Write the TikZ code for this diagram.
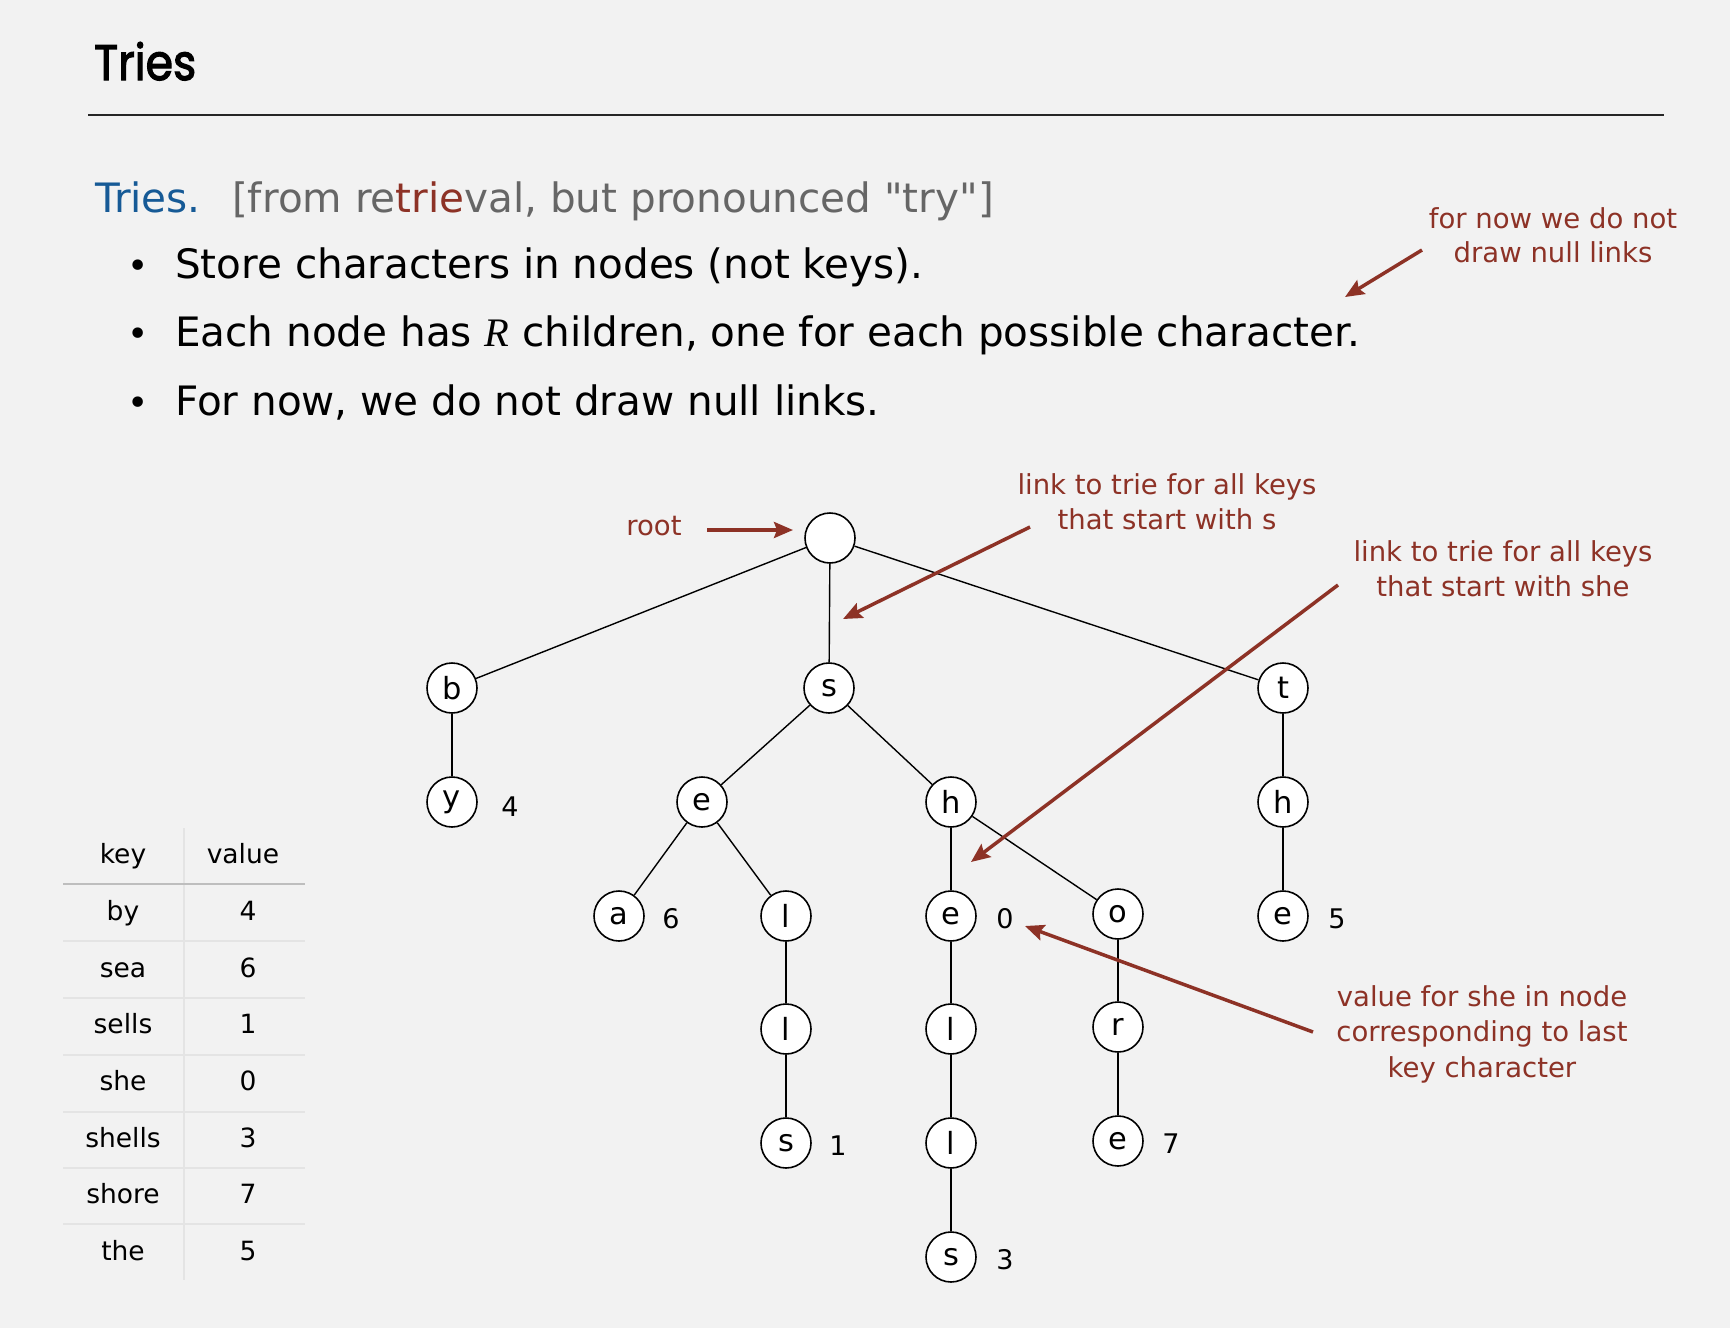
\documentclass[tikz,border=0pt]{standalone}
\usepackage{fontspec}
\setmainfont{DejaVu Sans}
\newfontfamily\titlefont{Poppins}[FakeBold=2.5]
\newfontfamily\qfont{DejaVu Sans}[Ligatures=TeXOff]
\newfontfamily\rfont{Liberation Serif}
\usetikzlibrary{arrows.meta}
\definecolor{bg}{RGB}{242,242,242}
\definecolor{annred}{RGB}{141,50,38}
\definecolor{tblue}{RGB}{22,90,150}
\definecolor{tgray}{RGB}{102,102,102}
\definecolor{hdrline}{RGB}{190,190,190}
\definecolor{rowline}{RGB}{228,228,228}
\begin{document}
\begin{tikzpicture}[x=1pt,y=-1pt,
  tn/.style={circle,draw=black,fill=white,line width=1.6pt,minimum size=50pt,inner sep=0pt,font=\fontsize{30.5}{30.5}\selectfont},
  tedge/.style={line width=1.4pt},
  val/.style={anchor=base,inner sep=0pt,font=\fontsize{27}{27}\selectfont},
  ann/.style={anchor=base,inner sep=0pt,text=annred,font=\fontsize{27.5}{27.5}\selectfont},
  redarrow/.style={draw=annred,line width=3.5pt,-{Stealth[length=19pt,width=16pt,inset=3pt]}},
  bul/.style={anchor=base west,inner sep=0pt,font=\fontsize{40.5}{40.5}\selectfont},
  bdot/.style={anchor=base,inner sep=0pt,font=\fontsize{36}{36}\selectfont},
  tbl/.style={anchor=base,inner sep=0pt,font=\fontsize{26.5}{26.5}\selectfont},
]
\fill[bg] (0,0) rectangle (1730,1328);
\useasboundingbox (0,0) rectangle (1730,1328);

% title and rule
\node[anchor=base west,inner sep=0pt] (title) at (94,80) {\resizebox{102pt}{38pt}{\titlefont Tries}};
\draw[line width=2pt,black!85] (88,115) -- (1664,115);

% text lines
\node[bul,text=tblue] (hd) at (95,212) {Tries.};
\node[bul,text=tgray] (hd2) at (232,212) {\qfont [from re\textcolor{annred}{trie}val, but pronounced "try"]};
\node[bdot] (d1) at (138,278) {\textbullet};
\node[bul] (l1) at (175,278) {Store characters in nodes (not keys).};
\node[bdot] (d2) at (138,346.5) {\textbullet};
\node[bul] (l2) at (175,346.5) {Each node has {\rfont\itshape R} children, one for each possible character.};
\node[bdot] (d3) at (138,415) {\textbullet};
\node[bul] (l3) at (175,415) {For now, we do not draw null links.};

% trie nodes
\node[tn] (root) at (830,538) {};
\node[tn] (b) at (452,688) {b};
\node[tn] (s) at (829,688) {s};
\node[tn] (t) at (1283,688) {t};
\node[tn] (by) at (452,802) {y};
\node[tn] (se) at (702,802) {e};
\node[tn] (sh) at (951,802) {h};
\node[tn] (th) at (1283,802) {h};
\node[tn] (sea) at (619,916) {a};
\node[tn] (sel) at (786,916) {l};
\node[tn] (she) at (951,916) {e};
\node[tn] (sho) at (1118,914) {o};
\node[tn] (the) at (1283,916) {e};
\node[tn] (sell) at (786,1029) {l};
\node[tn] (shel) at (951,1029) {l};
\node[tn] (shor) at (1118,1027) {r};
\node[tn] (sells) at (786,1143) {s};
\node[tn] (shell) at (951,1143) {l};
\node[tn] (shore) at (1118,1141) {e};
\node[tn] (shells) at (951,1257) {s};

% edges
\foreach \u/\v in {root/b,root/s,root/t,b/by,s/se,s/sh,t/th,se/sea,se/sel,sh/she,sh/sho,th/the,sel/sell,she/shel,sho/shor,sell/sells,shel/shell,shor/shore,shell/shells}
  \draw[tedge] (\u) -- (\v);

% values
\node[val] (v4) at (510,816) {4};
\node[val] (v6) at (671,928) {6};
\node[val] (v0) at (1005,928) {0};
\node[val] (v5) at (1337,928) {5};
\node[val] (v1) at (838,1155) {1};
\node[val] (v7) at (1171,1153) {7};
\node[val] (v3) at (1005,1269) {3};

% annotations
\node[ann] (a1a) at (1553,228) {for now we do not};
\node[ann] (a1b) at (1553,262) {draw null links};
\coordinate (a1s) at (1422,250);
\coordinate (a1t) at (1345,297);
\draw[redarrow] (a1s) -- (a1t);

\node[ann] (rootlbl) at (654,535) {root};
\coordinate (a2s) at (707,530);
\coordinate (a2t) at (793,530);
\draw[redarrow] (a2s) -- (a2t);

\node[ann] (a3a) at (1167,494) {link to trie for all keys};
\node[ann] (a3b) at (1167,529) {that start with s};
\coordinate (a3s) at (1030,527);
\coordinate (a3t) at (843,619);
\draw[redarrow] (a3s) -- (a3t);

\node[ann] (a4a) at (1503,561) {link to trie for all keys};
\node[ann] (a4b) at (1503,596) {that start with she};
\coordinate (a4s) at (1338,585);
\coordinate (a4t) at (971,862);
\draw[redarrow] (a4s) -- (a4t);

\node[ann] (a5a) at (1482,1006) {value for she in node};
\node[ann] (a5b) at (1482,1041) {corresponding to last};
\node[ann] (a5c) at (1482,1077) {key character};
\coordinate (a5s) at (1313,1032);
\coordinate (a5t) at (1025,926);
\draw[redarrow] (a5s) -- (a5t);

% table
\draw[rowline,line width=1.5pt] (184,828) -- (184,1280);
\foreach \yy in {941,998,1055,1112,1168,1224}
  \draw[rowline,line width=1.5pt] (63,\yy) -- (305,\yy);
\draw[hdrline,line width=2pt] (63,884) -- (305,884);
\node[tbl] (hk) at (123,863) {key};
\node[tbl] (hv) at (243,863) {value};
\node[tbl] (k1) at (123,920) {by};     \node[tbl] (w1) at (248,920) {4};
\node[tbl] (k2) at (123,977) {sea};    \node[tbl] (w2) at (248,977) {6};
\node[tbl] (k3) at (123,1033) {sells}; \node[tbl] (w3) at (248,1033) {1};
\node[tbl] (k4) at (123,1090) {she};   \node[tbl] (w4) at (248,1090) {0};
\node[tbl] (k5) at (123,1147) {shells};\node[tbl] (w5) at (248,1147) {3};
\node[tbl] (k6) at (123,1203) {shore}; \node[tbl] (w6) at (248,1203) {7};
\node[tbl] (k7) at (123,1260) {the};   \node[tbl] (w7) at (248,1260) {5};
\end{tikzpicture}
\end{document}
